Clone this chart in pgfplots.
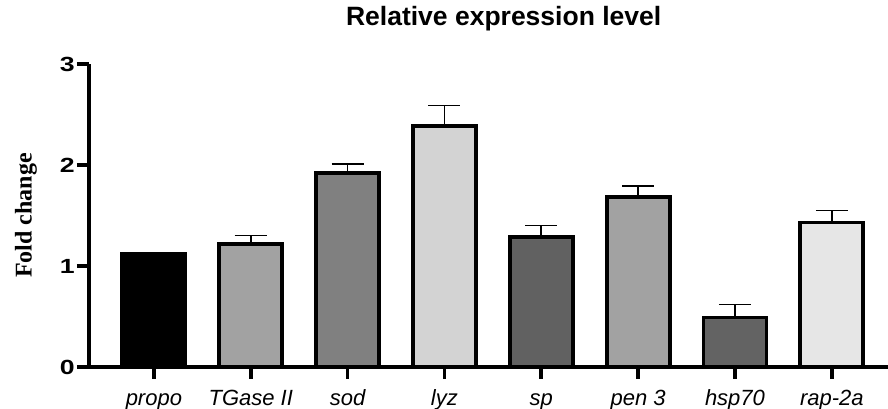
\documentclass[border=0pt]{standalone}
\usepackage{pgfplots}
\pgfplotsset{compat=1.18}
\usepackage{fontspec}
\setmainfont{Liberation Sans}
\newfontfamily\serifbf{Liberation Serif}
\definecolor{cA}{HTML}{000000}
\definecolor{cB}{HTML}{A2A2A2}
\definecolor{cC}{HTML}{808080}
\definecolor{cD}{HTML}{D3D3D3}
\definecolor{cE}{HTML}{616161}
\definecolor{cF}{HTML}{A2A2A2}
\definecolor{cG}{HTML}{636363}
\definecolor{cH}{HTML}{E6E6E6}
\pgfplotsset{
  mybar/.style={ybar, bar shift=0pt, bar width=63pt, draw=black, line width=3.8pt, fill=#1,
    error bars/.cd, y dir=plus, y explicit,
    error bar style={line width=1.6pt, black},
    error mark options={rotate=90, line width=1.6pt, mark size=16pt, black}},
}
\begin{document}
\begin{tikzpicture}
\begin{axis}[
  scale only axis, width=799pt, height=303pt,
  xmin=-0.67, xmax=7.58, ymin=0, ymax=3,
  axis lines=left,
  axis line style={-, line width=3.6pt, black},
  xtick={0,1,2,3,4,5,6,7},
  xticklabels={propo, TGase II, sod, lyz, sp, pen 3, hsp70, rap-2a},
  ytick={0,1,2,3},
  tick align=outside,
  major tick length=12pt,
  tick style={line width=3.6pt, black},
  /pgf/number format/assume math mode=true,
  yticklabel style={font=\fontsize{20.5}{20.5}\selectfont\bfseries, xscale=1.3, inner xsep=1.5pt},
  xticklabel style={font=\fontsize{22}{22}\selectfont\itshape, text height=15.5pt, text depth=4.5pt, yshift=-7pt},
  ylabel={Fold change},
  ylabel style={font=\fontsize{24}{24}\selectfont\serifbf\bfseries, at={(axis description cs:-0.079,0.5)}, anchor=center},
  title={Relative expression level},
  title style={font=\fontsize{26.5}{26.5}\selectfont\bfseries, at={(axis description cs:0.519,1)}, anchor=base, yshift=32pt},
  clip=false,
]
\addplot[mybar=cA] coordinates {(0,1.12) +- (0,0.01)};
\addplot[mybar=cB] coordinates {(1,1.22) +- (0,0.08)};
\addplot[mybar=cC] coordinates {(2,1.92) +- (0,0.09)};
\addplot[mybar=cD] coordinates {(3,2.39) +- (0,0.20)};
\addplot[mybar=cE] coordinates {(4,1.29) +- (0,0.11)};
\addplot[mybar=cF] coordinates {(5,1.68) +- (0,0.11)};
\addplot[mybar=cG] coordinates {(6,0.49) +- (0,0.13)};
\addplot[mybar=cH] coordinates {(7,1.43) +- (0,0.12)};
\coordinate (A) at (rel axis cs:0,0);
\coordinate (B) at (rel axis cs:1,1);
\end{axis}
\pgfresetboundingbox
\path[use as bounding box] ([xshift=-89pt,yshift=-42pt]A) rectangle ([yshift=64pt]B);
\end{tikzpicture}
\end{document}
